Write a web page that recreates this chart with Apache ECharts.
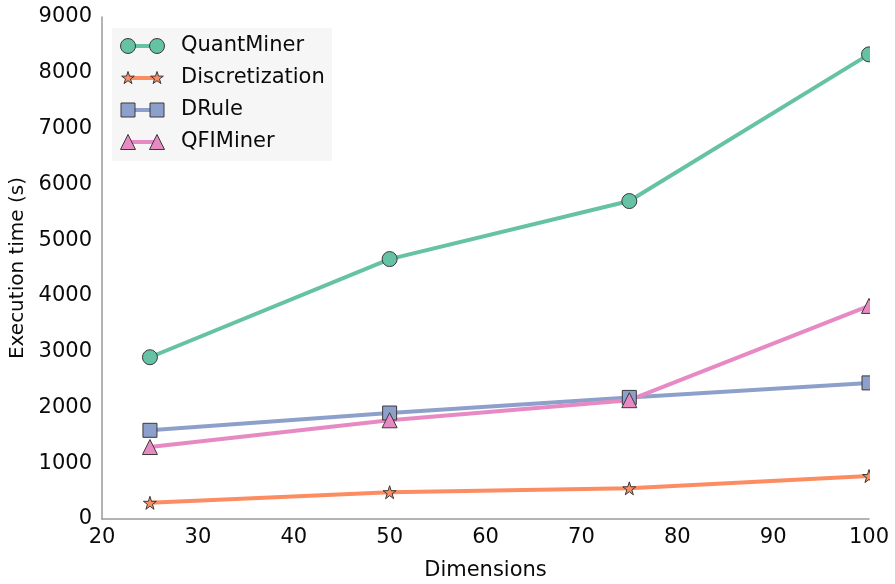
<!DOCTYPE html>
<html>
<head>
<meta charset="utf-8">
<script src="https://cdn.jsdelivr.net/npm/echarts@6/dist/echarts.min.js"></script>
<style>
  html, body { margin: 0; padding: 0; background: #fff; }
  #chart { width: 895px; height: 584px; }
</style>
</head>
<body>
<div id="chart"></div>
<script>
// Execution time of each miner as the number of dimensions grows
const dimensions = [25, 50, 75, 100];
const quantMiner = [2900, 4660, 5700, 8330];
const discretization = [290, 480, 550, 770];
const dRule = [1590, 1900, 2180, 2440];
const qfiMiner = [1290, 1770, 2130, 3820];

const xTicks = [20, 30, 40, 50, 60, 70, 80, 90, 100];
const yTicks = [0, 1000, 2000, 3000, 4000, 5000, 6000, 7000, 8000, 9000];

const FONT = 'DejaVu Sans';
const TEXT = '#0a0a0a';
const EDGE = '#3a3a3a';
const GRID = { left: 102, right: 26, top: 17, bottom: 65 };
// five-pointed star outline on a 100x100 box
const STAR_PTS = [[50,0],[61.8,35.6],[99,35.6],[69,57.6],[80.4,93],[50,71],[19.6,93],[31,57.6],[1,35.6],[38.2,35.6]];
const STAR = 'path://M' + STAR_PTS.map(function (p) { return p[0] + ',' + p[1]; }).join(' L') + ' Z';

const seriesDefs = [
  { name: 'QuantMiner', data: quantMiner, color: '#66c2a5', symbol: 'circle', size: 15 },
  { name: 'Discretization', data: discretization, color: '#fc8d62', symbol: STAR, size: 13 },
  { name: 'DRule', data: dRule, color: '#8da0cb', symbol: 'rect', size: 14 },
  { name: 'QFIMiner', data: qfiMiner, color: '#e78ac3', symbol: 'triangle', size: 15 }
];

const chart = echarts.init(document.getElementById('chart'), null, { renderer: 'canvas' });

const graphics = [];
// markers at the right edge are cut off by the plot boundary
graphics.push({
  type: 'rect', z: 9, silent: true,
  shape: { x: 895 - GRID.right + 1, y: 0, width: GRID.right, height: 584 - GRID.bottom - 1 },
  style: { fill: '#ffffff' }
});
// Legend drawn as graphic elements so each entry shows a marker at both ends
graphics.push({
  type: 'rect', z: 10,
  shape: { x: 112, y: 28, width: 220, height: 133 },
  style: { fill: '#f6f6f6' }
});
function markerShape(def, cx, cy) {
  const s = def.size;
  const style = { fill: def.color, stroke: EDGE, lineWidth: 1 };
  if (def.symbol === 'circle') {
    return { type: 'circle', z: 12, shape: { cx: cx, cy: cy, r: s / 2 }, style: style };
  }
  if (def.symbol === 'rect') {
    return { type: 'rect', z: 12, shape: { x: cx - s / 2, y: cy - s / 2, width: s, height: s }, style: style };
  }
  if (def.symbol === 'triangle') {
    return { type: 'polygon', z: 12,
      shape: { points: [[cx, cy - s / 2], [cx + s / 2, cy + s / 2], [cx - s / 2, cy + s / 2]] }, style: style };
  }
  return { type: 'polygon', z: 12,
    shape: { points: STAR_PTS.map(function (p) {
      return [cx - s / 2 + p[0] * s / 100, cy - s / 2 + p[1] * s / 100];
    }) }, style: style };
}
seriesDefs.forEach(function (def, i) {
  const cy = 46 + i * 32;
  const x0 = 128, x1 = 157;
  graphics.push({ type: 'line', z: 11, shape: { x1: x0, y1: cy, x2: x1, y2: cy },
    style: { stroke: def.color, lineWidth: 4 } });
  graphics.push(markerShape(def, x0, cy));
  graphics.push(markerShape(def, x1, cy));
  graphics.push({ type: 'text', z: 12, x: 181, y: cy,
    style: { text: def.name, font: '21px "' + FONT + '"', fill: TEXT, verticalAlign: 'middle', textVerticalAlign: 'middle' } });
});

chart.setOption({
  backgroundColor: '#ffffff',
  animation: false,
  textStyle: { fontFamily: FONT },
  grid: { left: GRID.left, right: GRID.right, top: GRID.top, bottom: GRID.bottom,
    containLabel: false, outerBoundsMode: 'none' },
  xAxis: {
    type: 'value', min: 20, max: 100, interval: 10,
    name: 'Dimensions', nameLocation: 'middle', nameGap: 41,
    nameTextStyle: { fontSize: 21, color: TEXT, fontFamily: FONT },
    axisLine: { show: true, lineStyle: { color: '#9a9a9a', width: 1.5 } },
    axisTick: { show: false },
    splitLine: { show: false },
    axisLabel: { fontSize: 21, color: TEXT, margin: 8, fontFamily: FONT,
      formatter: function (v) { return xTicks.indexOf(v) >= 0 ? String(v) : ''; } }
  },
  yAxis: {
    type: 'value', min: 0, max: 9000, interval: 1000,
    name: 'Execution time (s)', nameLocation: 'middle', nameGap: 74, nameRotate: 90,
    nameTextStyle: { fontSize: 20, color: TEXT, fontFamily: FONT },
    axisLine: { show: true, lineStyle: { color: '#9a9a9a', width: 1.5 } },
    axisTick: { show: false },
    splitLine: { show: false },
    axisLabel: { fontSize: 21, color: TEXT, margin: 10, fontFamily: FONT,
      formatter: function (v) { return yTicks.indexOf(v) >= 0 ? String(v) : ''; } }
  },
  series: seriesDefs.map(function (def) {
    return {
      name: def.name, type: 'line',
      data: dimensions.map(function (d, k) { return [d, def.data[k]]; }),
      symbol: def.symbol, symbolSize: def.size, showAllSymbol: true,
      clip: false,
      lineStyle: { color: def.color, width: 4 },
      itemStyle: { color: def.color, borderColor: EDGE, borderWidth: 1 },
      emphasis: { disabled: true }
    };
  }),
  graphic: graphics
});
</script>
</body>
</html>
